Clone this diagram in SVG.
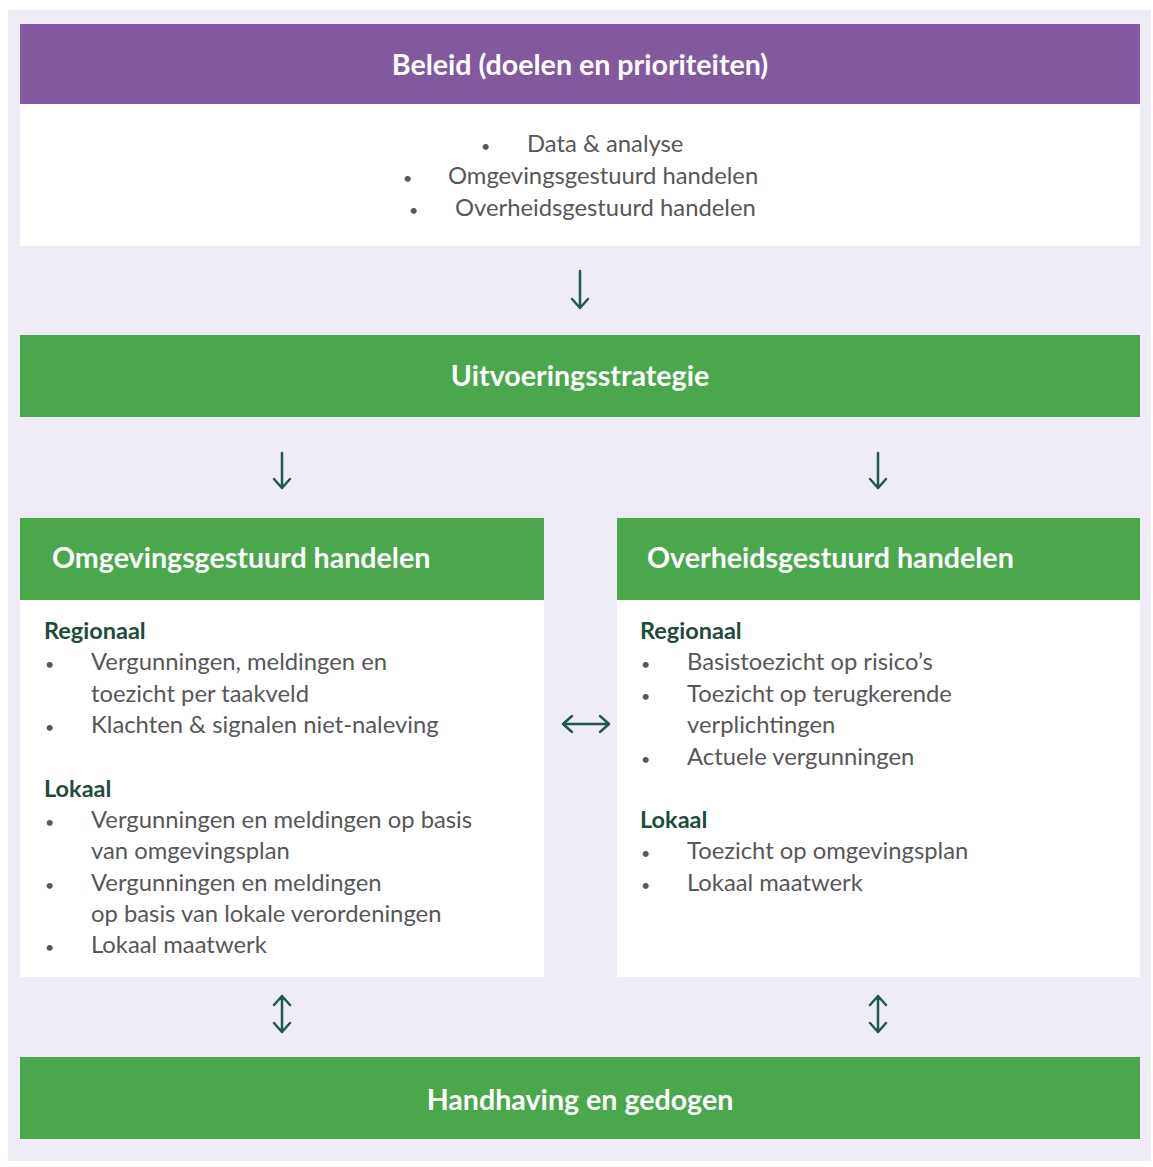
<svg xmlns="http://www.w3.org/2000/svg" width="1153" height="1167" viewBox="0 0 1153 1167">
<style>
.bg{fill:#efecf5}
.purple{fill:#82599e}
.green{fill:#4ba74b}
.panel{fill:#ffffff}
.title{font-family:Lato,"Open Sans",sans-serif;font-weight:bold;fill:#ffffff;font-size:28.6px}
.txt{font-family:Lato,"Open Sans",sans-serif;fill:#575757;font-size:23.8px}
.bul{font-family:Lato,"Open Sans",sans-serif;fill:#575757;font-size:16px}
.sub{font-family:Lato,"Open Sans",sans-serif;font-weight:bold;fill:#1d4d3a;font-size:23.5px}
.arr{fill:none;stroke:#1f5a4a;stroke-width:2.5;stroke-linecap:round;stroke-linejoin:round}
</style>
<rect x="0" y="0" width="1153" height="1167" fill="#ffffff"/>
<rect class="bg" x="8" y="10" width="1143" height="1151"/>

<g id="beleid">
<rect class="purple" x="20" y="24" width="1120" height="80"/>
<text class="title" x="580" y="75" text-anchor="middle">Beleid (doelen en prioriteiten)</text>
<rect class="panel" x="20" y="104" width="1120" height="142"/>
<g class="bul">
<text x="481" y="152">•</text>
<text x="403" y="184">•</text>
<text x="409" y="216">•</text>
</g>
<g class="txt">
<text x="527" y="152">Data &amp; analyse</text>
<text x="448" y="184">Omgevingsgestuurd handelen</text>
<text x="455" y="216">Overheidsgestuurd handelen</text>
</g>
</g>

<g id="uitvoeringsstrategie">
<rect class="green" x="20" y="335" width="1120" height="82"/>
<text class="title" x="580" y="386" text-anchor="middle">Uitvoeringsstrategie</text>
</g>

<g id="omgevingsgestuurd">
<rect class="green" x="20" y="518" width="524" height="82"/>
<text class="title" x="52" y="568">Omgevingsgestuurd handelen</text>
<rect class="panel" x="20" y="600" width="524" height="377"/>
<text class="sub" x="44" y="639">Regionaal</text>
<g class="bul">
<text x="45" y="670">•</text>
<text x="45" y="733">•</text>
<text x="45" y="828">•</text>
<text x="45" y="891">•</text>
<text x="45" y="953">•</text>
</g>
<g class="txt">
<text x="91" y="670">Vergunningen, meldingen en</text>
<text x="91" y="702">toezicht per taakveld</text>
<text x="91" y="733">Klachten &amp; signalen niet-naleving</text>
</g>
<text class="sub" x="44" y="797">Lokaal</text>
<g class="txt">
<text x="91" y="828">Vergunningen en meldingen op basis</text>
<text x="91" y="859">van omgevingsplan</text>
<text x="91" y="891">Vergunningen en meldingen</text>
<text x="91" y="922">op basis van lokale verordeningen</text>
<text x="91" y="953">Lokaal maatwerk</text>
</g>
</g>

<g id="overheidsgestuurd">
<rect class="green" x="617" y="518" width="523" height="82"/>
<text class="title" x="647" y="568">Overheidsgestuurd handelen</text>
<rect class="panel" x="617" y="600" width="523" height="377"/>
<text class="sub" x="640" y="639">Regionaal</text>
<g class="bul">
<text x="641" y="670">•</text>
<text x="641" y="702">•</text>
<text x="641" y="765">•</text>
<text x="641" y="859">•</text>
<text x="641" y="891">•</text>
</g>
<g class="txt">
<text x="687" y="670">Basistoezicht op risico’s</text>
<text x="687" y="702">Toezicht op terugkerende</text>
<text x="687" y="733">verplichtingen</text>
<text x="687" y="765">Actuele vergunningen</text>
</g>
<text class="sub" x="640" y="828">Lokaal</text>
<g class="txt">
<text x="687" y="859">Toezicht op omgevingsplan</text>
<text x="687" y="891">Lokaal maatwerk</text>
</g>
</g>

<g id="handhaving">
<rect class="green" x="20" y="1057" width="1120" height="82"/>
<text class="title" x="580" y="1110" text-anchor="middle">Handhaving en gedogen</text>
</g>

<g id="connectors">
<path class="arr" d="M580 271 V308 M572 299 L580 308 L588 299"/>
<path class="arr" d="M282 453 V488 M274 479 L282 488 L290 479"/>
<path class="arr" d="M878 453 V488 M870 479 L878 488 L886 479"/>
<path class="arr" d="M563 724 H609 M572 716 L563 724 L572 732 M600 716 L609 724 L600 732"/>
<path class="arr" d="M282 996 V1032 M274 1005 L282 996 L290 1005 M274 1023 L282 1032 L290 1023"/>
<path class="arr" d="M878 996 V1032 M870 1005 L878 996 L886 1005 M870 1023 L878 1032 L886 1023"/>
</g>
</svg>
